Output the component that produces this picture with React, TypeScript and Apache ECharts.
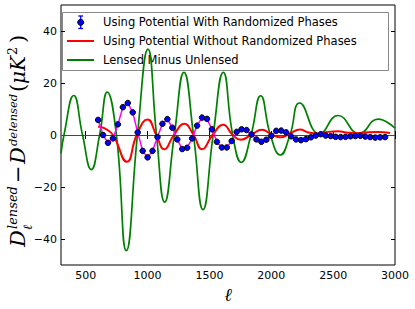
import React, { useEffect, useRef } from "react";
import * as echarts from "echarts";

// Blue points (Using Potential With Randomized Phases)
const pointL = [600, 640, 680, 720, 760, 800, 840, 880, 920, 960, 1000, 1040, 1080, 1120, 1160, 1200, 1240, 1280, 1320, 1360, 1400, 1440, 1480, 1520, 1560, 1600, 1640, 1680, 1720, 1760, 1800, 1840, 1880, 1920, 1960, 2000, 2040, 2080, 2120, 2160, 2200, 2240, 2280, 2320, 2360, 2400, 2440, 2480, 2520, 2560, 2600, 2640, 2680, 2720, 2760, 2800, 2840, 2880, 2920];
const pointV = [5.8, 0.0, -3.0, -1.3, 4.1, 10.7, 12.3, 8.7, 1.0, -6.1, -8.6, -6.1, -0.8, 4.3, 6.1, 2.8, -1.7, -5.4, -4.9, -1.3, 3.6, 6.7, 6.2, 2.2, -2.6, -4.8, -4.8, -2.3, 1.2, 2.2, 1.9, 0.2, -1.7, -2.6, -1.8, -0.3, 1.6, 1.7, 1.0, -0.5, -1.7, -2.0, -1.6, -0.9, -0.2, 0.3, -0.2, -0.4, -0.7, -0.8, -0.7, -0.5, -0.4, -0.3, -0.6, -0.8, -1.0, -0.9, -0.8];

// Red curve (Using Potential Without Randomized Phases)
const redL = [600, 650, 720, 833, 912, 1000, 1070, 1135, 1212, 1297, 1372, 1440, 1525, 1612, 1688, 1755, 1840, 1925, 2000, 2076, 2150, 2232, 2300, 2380, 2460, 2540, 2620, 2700, 2780, 2860, 2960];
const redV = [3.2, 2.6, 0, -10.3, 0, 6.0, 0, -5.5, 0, 4.3, 0, -5.5, 0, 3.9, 0, -1.8, 0.2, 2.0, 0.3, -0.9, 0.6, 2.1, 1.0, 0.6, 1.2, 1.4, 0.9, 0.7, 1.1, 1.2, 0.8];

// Green curve (Lensed Minus Unlensed)
const greenL = [300, 324, 403, 474, 545, 612, 674, 748, 828, 918, 1003, 1072, 1138, 1216, 1294, 1371, 1448, 1530, 1612, 1688, 1758, 1836, 1914, 1993, 2073, 2151, 2230, 2390, 2539, 2710, 2863, 3000];
const greenV = [-7.1, 0, 15.2, 0, -13.3, 0, 16.5, 0, -44.5, 0, 33.0, 0, -25.8, 0, 24.1, 0, -28.7, 0, 24.1, 0, -10.5, 0, 15.1, 0, -7.7, 0, 12.3, 0.4, 7.5, 0.6, 6.1, 2.6];

const xTicks = [500, 1000, 1500, 2000, 2500, 3000];
const yTicks = [-40, -20, 0, 20, 40];
const legendNames = [
  "Using Potential With Randomized Phases",
  "Using Potential Without Randomized Phases",
  "Lensed Minus Unlensed",
];

const fmt = (v: number) => String(v).replace("-", "\u2212");
const pairs = (a: number[], b: number[]) => a.map((x, i) => [x, b[i]]);

export default function App() {
  const ref = useRef<HTMLDivElement>(null);
  useEffect(() => {
    if (!ref.current) return;
    const chart = echarts.init(ref.current, null, { renderer: "svg" });
    const tickFont = { color: "#000", fontSize: 11, fontFamily: "DejaVu Sans" };
    const serif = "DejaVu Serif";
    const lx = 25, ly = 247;
    const t = (text: string, x: number, y: number, size: number, italic = true) => ({
      type: "text",
      x,
      y,
      style: {
        text,
        fontFamily: serif,
        fontStyle: italic ? "italic" : "normal",
        fontSize: size,
        fill: "#000",
        verticalAlign: "bottom",
        align: "left",
      },
    });
    const option: any = {
      animation: false,
      backgroundColor: "#fff",
      grid: { left: 61, right: 20, top: 5, bottom: 44, outerBoundsMode: "none", containLabel: false, show: true, borderColor: "#000", borderWidth: 1, backgroundColor: "transparent" },
      xAxis: [
        {
          type: "value", min: 300, max: 3000, position: "bottom",
          axisLine: { show: false }, splitLine: { show: false },
          axisTick: { inside: true, length: 4, customValues: xTicks, lineStyle: { color: "#000" } },
          axisLabel: { ...tickFont, customValues: xTicks, margin: 5, formatter: fmt },
          name: "\u2113", nameLocation: "middle", nameGap: 18,
          nameTextStyle: { fontFamily: serif, fontStyle: "italic", fontSize: 18, color: "#000", verticalAlign: "top", lineHeight: 18 },
        },
        {
          type: "value", min: 300, max: 3000, position: "top",
          axisLine: { show: false }, splitLine: { show: false },
          axisTick: { inside: true, length: 4, customValues: xTicks, lineStyle: { color: "#000" } },
          axisLabel: { show: false },
        },
      ],
      yAxis: [
        {
          type: "value", min: -50, max: 50, position: "left",
          axisLine: { show: false }, splitLine: { show: false },
          axisTick: { inside: true, length: 4, customValues: yTicks, lineStyle: { color: "#000" } },
          axisLabel: { ...tickFont, customValues: yTicks, margin: 4, formatter: fmt },
        },
        {
          type: "value", min: -50, max: 50, position: "right",
          axisLine: { show: false }, splitLine: { show: false },
          axisTick: { inside: true, length: 4, customValues: yTicks, lineStyle: { color: "#000" } },
          axisLabel: { show: false },
        },
      ],
      series: [
        {
          name: legendNames[2], type: "line", data: pairs(greenL, greenV), smooth: 0.5,
          showSymbol: false, lineStyle: { color: "#008000", width: 1.7 }, z: 2,
          markLine: {
            silent: true, symbol: "none", label: { show: false },
            lineStyle: { color: "#444", width: 1.2, type: "solid" },
            data: [{ yAxis: 0 }],
          },
        },
        {
          name: legendNames[1], type: "line", data: pairs(redL, redV), smooth: 0.5,
          showSymbol: false, lineStyle: { color: "#ff0000", width: 2 }, z: 3,
        },
        {
          name: "connect", type: "line", data: pairs(pointL, pointV),
          showSymbol: false, lineStyle: { color: "#ff00ff", width: 1.5 }, z: 4,
        },
        {
          name: legendNames[0], type: "scatter", data: pairs(pointL, pointV), symbolSize: 5.5,
          itemStyle: { color: "#0000ff", borderColor: "#000", borderWidth: 1, opacity: 1 }, z: 5,
        },
      ],
      graphic: [
        {
          type: "group", z: 100,
          children: [
            { type: "rect", shape: { x: 62.5, y: 12.5, width: 326, height: 58 }, style: { fill: "rgba(255,255,255,0.8)", stroke: "#888", lineWidth: 1 } },
            { type: "line", shape: { x1: 80.7, y1: 16, x2: 80.7, y2: 28.5 }, style: { stroke: "#0000ff", lineWidth: 1.3 } },
            { type: "line", shape: { x1: 78.3, y1: 16, x2: 83.1, y2: 16 }, style: { stroke: "#0000ff", lineWidth: 1.3 } },
            { type: "line", shape: { x1: 78.3, y1: 28.5, x2: 83.1, y2: 28.5 }, style: { stroke: "#0000ff", lineWidth: 1.3 } },
            { type: "circle", shape: { cx: 80.7, cy: 22.3, r: 3 }, style: { fill: "#0000ff", stroke: "#000", lineWidth: 1 } },
            { type: "line", shape: { x1: 67, y1: 41, x2: 94, y2: 41 }, style: { stroke: "#ff0000", lineWidth: 2 } },
            { type: "line", shape: { x1: 67, y1: 60, x2: 94, y2: 60 }, style: { stroke: "#008000", lineWidth: 2 } },
            ...legendNames.map((n, i) => ({
              type: "text", x: 103, y: [22.3, 41, 60][i],
              style: { text: n, fontFamily: "DejaVu Sans", fontSize: 11.5, fill: "#000", verticalAlign: "middle", align: "left" },
            })),
          ],
        },
        {
          type: "group", x: lx, y: ly, rotation: Math.PI / 2,
          children: [
            t("D", 0, 3, 21),
            t("lensed", 18, -6, 13),
            t("\u2113", 17, 9, 12.5),
            t("\u2212", 64, 3, 21, false),
            t("D", 83, 3, 21),
            t("delensed", 101, -6, 11.5),
            t("(", 155, 3, 21, false),
            t("\u03bcK", 163, 3, 20),
            t("2", 192, -6, 12.5, false),
            t(")", 204, 3, 21, false),
          ],
        },
      ],
    };
    chart.setOption(option);
    return () => chart.dispose();
  }, []);
  return <div ref={ref} style={{ position: "fixed", left: 0, top: 0, width: 415, height: 309 }} />;
}
